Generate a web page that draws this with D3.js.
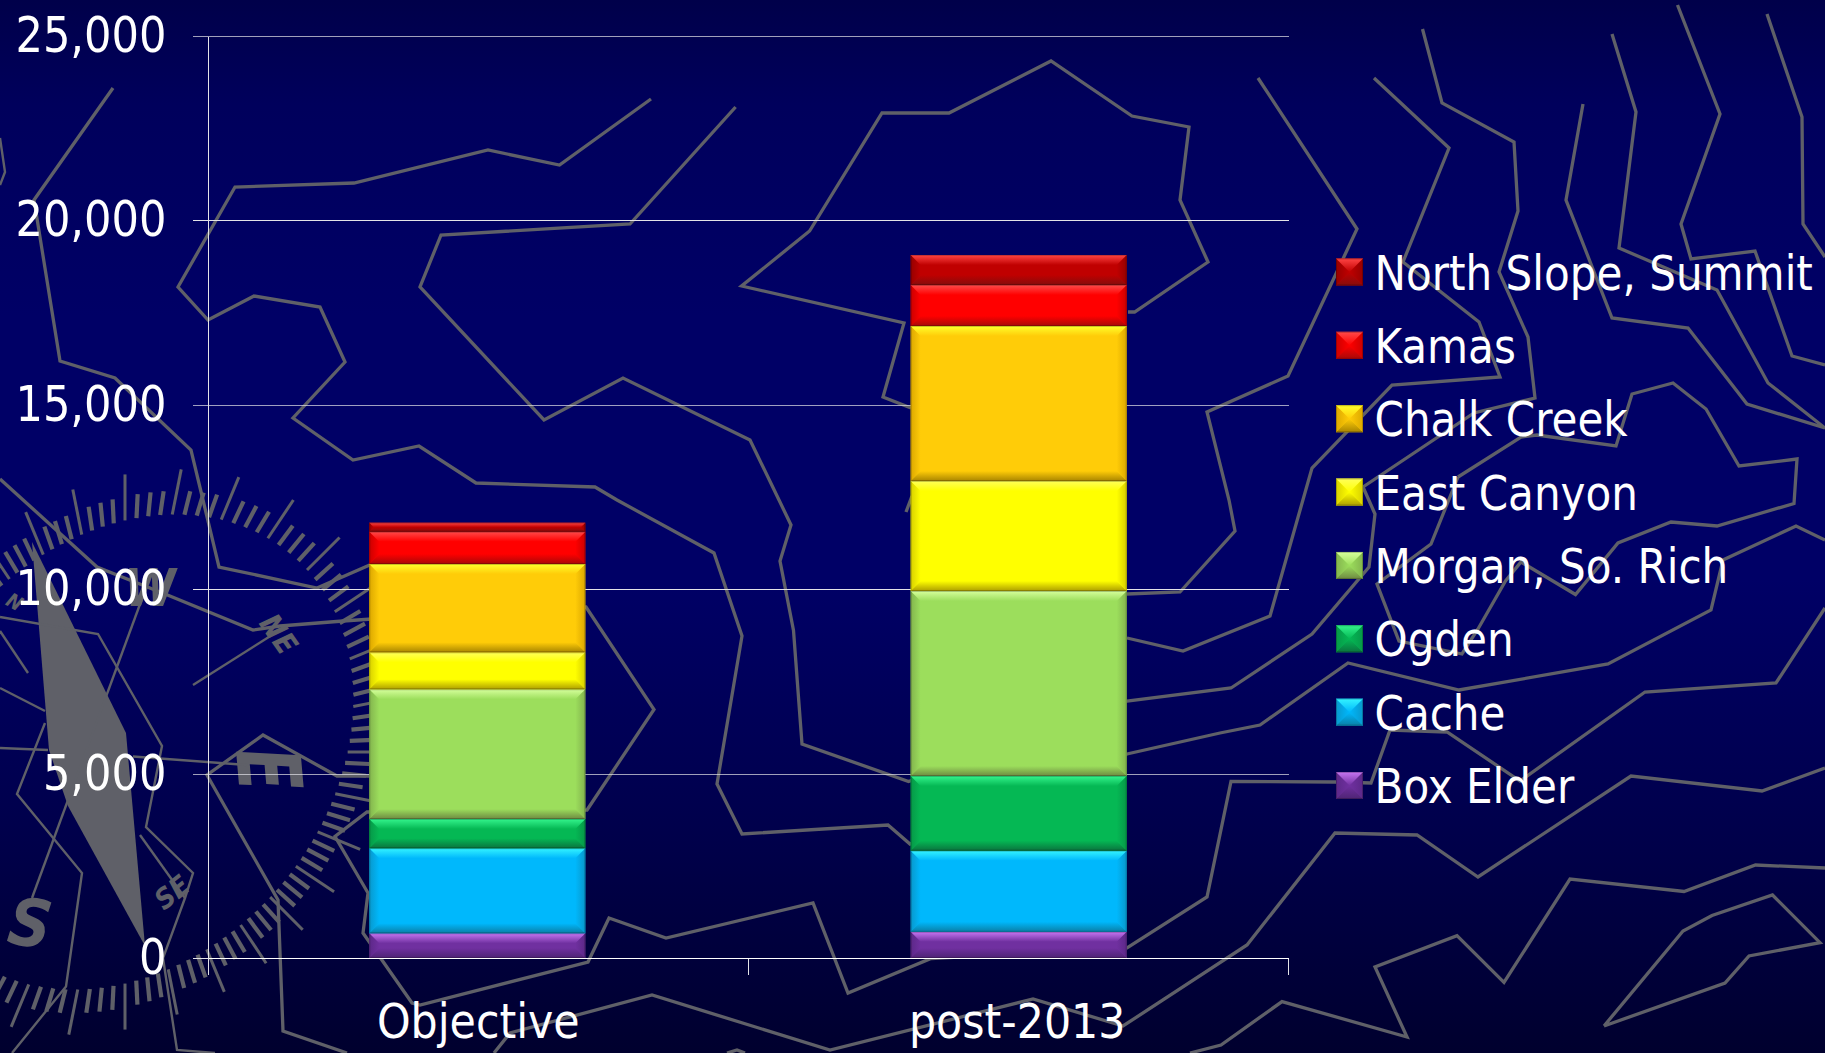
<!DOCTYPE html>
<html>
<head>
<meta charset="utf-8">
<script src="https://cdn.jsdelivr.net/npm/d3@7/dist/d3.min.js"></script>
<style>
html,body{margin:0;padding:0;background:#000066;overflow:hidden}
svg{display:block}
text{font-family:"DejaVu Sans Condensed","DejaVu Sans",sans-serif;fill:#fff}
</style>
</head>
<body>
<svg id="chart" width="1825" height="1053"></svg>
<script>
// ---- chart data ----
const categories = ["Objective", "post-2013"];
const seriesNames = ["Box Elder", "Cache", "Ogden", "Morgan, So. Rich", "East Canyon", "Chalk Creek", "Kamas", "North Slope, Summit"];
const boxElder  = [670, 710];
const cache     = [2305, 2200];
const ogden     = [794, 2025];
const morgan    = [3517, 5016];
const eastCanyon= [1003, 2983];
const chalkCreek= [2394, 4203];
const kamas     = [876, 1112];
const northSlope= [244, 813];
const seriesValues = [boxElder, cache, ogden, morgan, eastCanyon, chalkCreek, kamas, northSlope];
const yTicks = [0, 5000, 10000, 15000, 20000, 25000];

// ---- styles ----
const baseColors   = ["#7030a0","#00b8fc","#05b854","#9cde5c","#ffff00","#ffcc08","#ff0000","#c00000"];
const lightColors  = ["#c676f2","#34f4ff","#34f48c","#d6ff9c","#ffff5a","#ffff2c","#ff4a4a","#ff4444"];
const darkColors   = ["#4e2474","#0a7fa6","#0a733e","#6e8a42","#ad9e00","#a98500","#a80808","#860c0c"];
const sideColors   = ["#5c2888","#0898cc","#069848","#83b44e","#d8d000","#dca800","#cc0000","#960000"];

// ---- decorative background linework ----
const contourPaths = [
 [[113,88],[34,200],[60,361],[115,378],[191,450],[203,500],[219,567],[317,588],[372,564]],
 [[0,479],[97,567],[165,594],[253,630],[280,626],[343,621],[372,619],[586,607],[654,709.5],[587,810],[367,812],[335,836.5],[368,893],[363,933],[412,1003],[420,1005],[588,962],[609,918],[666,938],[813,903],[848,993],[931,958.5],[1127,948],[1207,897],[1231,781.5],[1335,782],[1371,783],[1390,730],[1447,732],[1520,781],[1645,692],[1776,683],[1825,608]],
 [[651,99],[559.5,165],[488,150],[354,183],[235,187],[178,287],[208,320],[254,296],[320,307],[345,362],[293,418],[353,460],[419,446],[476,483],[595,487],[617,500],[714,553],[742,636],[717,784],[742,834],[888,825],[910,844],[1127,754],[1220,733],[1260,725],[1348,663],[1459,690],[1608,664],[1711,610],[1723,560],[1796,526],[1825,540]],
 [[735.6,107],[630,224],[441,235],[420,287],[544,420],[623,378],[750,440],[779,500],[791,525],[780,561],[793.5,630.5],[802,744],[908.6,781.5],[1127,701],[1231,688],[1312,634],[1369,567],[1375,514],[1363,487],[1474,413],[1535,398],[1528,337],[1499,272],[1518,211],[1514,142],[1442,103],[1422.5,29]],
 [[911,408],[883,397],[904,323],[741.6,286],[809.6,231],[882,113],[949,113],[1051,61],[1132,116],[1189,127],[1180,200],[1208,262],[1134.6,312],[1128,312]],
 [[912,496],[906,512]],
 [[1258,78],[1357,229],[1288,376],[1207,412],[1229,500],[1235,531],[1180,592],[1127,594]],
 [[1374,78],[1449,148],[1403,262],[1479,322],[1500,377],[1392,385],[1312,468],[1270,616],[1183,651],[1127,638]],
 [[1583,104],[1566,200],[1612,318],[1688,328],[1747,404],[1825,428]],
 [[1458,477],[1521,437],[1537,435],[1616,446],[1632,394],[1673,383],[1706,409],[1739,466],[1797,459],[1794,503.5],[1717,526],[1671,522],[1618,543],[1575.5,594.5],[1521,562],[1505.5,581],[1478,629],[1462,654],[1399,641],[1377,584],[1431,544],[1458,477]],
 [[1612,34],[1636,112],[1619,248],[1717,290],[1768,383],[1825,428]],
 [[1677.5,5],[1720,114],[1681,224],[1691,259],[1755,251],[1792,356],[1825,365]],
 [[1767,14],[1802,117],[1803,224],[1825,257]],
 [[1825,768],[1762,791],[1631,776],[1478,877],[1417,835],[1335,833],[1247,945],[1123,1026],[1033,999],[830,1050],[652,995],[510,1033],[494,1053]],
 [[1825,868],[1755.5,865],[1684,891.5],[1570,879],[1504,982.5],[1457,935.6],[1375,967],[1407,1037],[1282,1001.6],[1221,1045],[1190,1053]],
 [[1604,1026],[1683,931],[1712,915.5],[1772.5,895],[1820,942.6],[1749,956],[1725,983],[1604,1026]],
 [[369,776],[337,776],[263,735],[207,775],[278,900],[283,1031],[347,1053]],
 [[727,1053],[737,1050],[745,1053]]
];
const thinPaths = [
 [[0,138],[5,172],[0,185]],
 [[193,685],[272,635]],
 [[140,835],[185,898]],
 [[0,688],[45,711]],
 [[0,748],[48,750]],
 [[133,756.5],[247,765]],
 [[0,631],[28,673]],
 [[45,723],[17,794],[82,873],[66,986.5],[12,1053]],
 [[143,596],[32,898]],
 [[0,617],[98,634],[162,746],[146,827],[193,873],[185,898],[163,958],[177,1050],[215,1053]]
];
const needle = [[32,542],[126,733],[145,946],[68,806],[49,750]];
const lineGrey = "#5f6068";

const svg = d3.select("#chart");
const defs = svg.append("defs");

// background gradient
const bg = defs.append("linearGradient").attr("id","bg").attr("x1",0).attr("y1",0).attr("x2",0).attr("y2",1);
[[0,"#00004a"],[0.1,"#00005c"],[0.3,"#000066"],[0.55,"#000066"],[0.8,"#00004a"],[1,"#00002e"]]
  .forEach(s=>bg.append("stop").attr("offset",s[0]).attr("stop-color",s[1]));
svg.append("rect").attr("width",1825).attr("height",1053).attr("fill","url(#bg)");

// compass ring
const compass = svg.append("g");
const ringCx=125, ringCy=752, ringA=258, ringB=205, ringRot=-50*Math.PI/180;
function ringRadius(t){
  const d=t-ringRot;
  return 1/Math.sqrt(Math.cos(d)**2/(ringA*ringA)+Math.sin(d)**2/(ringB*ringB));
}
compass.selectAll("line").data(d3.range(128)).join("line")
  .attr("x1",i=>{const t=i/128*2*Math.PI;return ringCx+ringRadius(t)*Math.cos(t);})
  .attr("y1",i=>{const t=i/128*2*Math.PI;return ringCy+ringRadius(t)*Math.sin(t);})
  .attr("x2",i=>{const t=i/128*2*Math.PI,r=ringRadius(t)+(i%4===0?46:24);return ringCx+r*Math.cos(t);})
  .attr("y2",i=>{const t=i/128*2*Math.PI,r=ringRadius(t)+(i%4===0?46:24);return ringCy+r*Math.sin(t);})
  .attr("stroke",lineGrey).attr("stroke-width",i=>i%4===0?3:4.2);

compass.append("polygon").attr("points",needle.map(p=>p.join(",")).join(" ")).attr("fill",lineGrey);

const dirLabels = [
 {t:"W",x:150,y:606,s:52,r:0,sx:1},
 {t:"E",x:238,y:772,s:88,r:85,sx:0.8},
 {t:"S",x:27,y:946,s:66,r:8,sx:1},
 {t:"N",x:11,y:608,s:20,r:30,sx:1},
 {t:"NE",x:270,y:640,s:30,r:55,sx:1},
 {t:"SE",x:178,y:900,s:28,r:-38,sx:1}
];
compass.selectAll("text").data(dirLabels).join("text")
  .attr("transform",d=>`translate(${d.x},${d.y}) rotate(${d.r}) scale(${d.sx},1)`)
  .attr("text-anchor","middle").attr("font-size",d=>d.s)
  .attr("font-weight","bold").attr("font-style","italic")
  .style("fill",lineGrey).text(d=>d.t);

const line = d3.line();
svg.append("g").selectAll("path").data(contourPaths).join("path")
  .attr("d",line).attr("fill","none").attr("stroke",lineGrey).attr("stroke-width",3.3).attr("stroke-linejoin","miter");
svg.append("g").selectAll("path").data(thinPaths).join("path")
  .attr("d",line).attr("fill","none").attr("stroke",lineGrey).attr("stroke-width",2.4);

// ---- scales ----
const plotLeft=208.5, plotRight=1288.5;
const x = d3.scaleBand().domain(categories).range([207.3,1288.7]).paddingInner(0.601).paddingOuter(0.2992);
const y = d3.scaleLinear().domain([0,25000]).range([958,36]);
const py = v => Math.round(y(v))+0.5;

// gridlines and axes
const axisColor = "#e4e4e8";
const yAxis = svg.append("g").attr("transform",`translate(${plotLeft},0)`)
  .call(d3.axisLeft(y).tickValues(yTicks).tickSize(16).tickPadding(26).tickFormat(d3.format(",")));
yAxis.selectAll(".domain").remove();
yAxis.selectAll(".tick").attr("transform",d=>`translate(0,${py(d)})`);
yAxis.selectAll(".tick line").attr("x1",-16).attr("x2",plotRight-plotLeft).attr("stroke",axisColor)
  .attr("stroke-width",1).attr("shape-rendering","crispEdges").attr("stroke-opacity",d=>d===25000||d===15000||d===5000?0.7:1);
const yText = yAxis.selectAll(".tick text").attr("font-size",50).attr("dy",0).attr("y",15.5)
  .attr("font-family",'"DejaVu Sans Condensed"').style("fill","#fff");

svg.append("line").attr("x1",plotLeft).attr("x2",plotLeft).attr("y1",py(25000)).attr("y2",975)
  .attr("stroke",axisColor).attr("stroke-width",1).attr("shape-rendering","crispEdges");
svg.append("line").attr("x1",plotLeft).attr("x2",plotRight).attr("y1",py(0)).attr("y2",py(0))
  .attr("stroke","#fff").attr("stroke-width",1).attr("shape-rendering","crispEdges");

const sepX = d3.range(3).map(i=>plotLeft+i*(plotRight-plotLeft)/2);
svg.append("g").selectAll("line").data(sepX).join("line")
  .attr("x1",d=>d).attr("x2",d=>d).attr("y1",py(0)).attr("y2",975)
  .attr("stroke",axisColor).attr("stroke-width",1).attr("shape-rendering","crispEdges");

const xAxis = svg.append("g").attr("transform",`translate(0,${py(0)})`)
  .call(d3.axisBottom(x).tickSize(0).tickPadding(0));
xAxis.selectAll(".domain").remove();
const xText = xAxis.selectAll(".tick text").attr("font-size",48).attr("dy",0).attr("y",79.5)
  .attr("x",(d,i)=>i?-1.5:1)
  .attr("font-family",'"DejaVu Sans Condensed"').style("fill","#fff");

// bevel gradients
function grad(id,c1,c2,horizontal){
  const g=defs.append("linearGradient").attr("id",id)
    .attr("x1",0).attr("y1",0).attr("x2",horizontal?1:0).attr("y2",horizontal?0:1);
  g.append("stop").attr("offset",0).attr("stop-color",c1);
  g.append("stop").attr("offset",1).attr("stop-color",c2);
}
seriesNames.forEach((n,i)=>{
  grad("top"+i,lightColors[i],baseColors[i],false);
  grad("bot"+i,baseColors[i],darkColors[i],false);
  grad("lef"+i,sideColors[i],baseColors[i],true);
  grad("rig"+i,baseColors[i],sideColors[i],true);
});

function bevel(g,x0,y0,w,h,i,depth){
  const d=Math.min(depth,h/2,w/2), x1=x0+w, y1=y0+h;
  const poly=(pts,fill)=>g.append("polygon").attr("points",pts.map(p=>p.join(",")).join(" ")).attr("fill",fill);
  g.append("rect").attr("x",x0).attr("y",y0).attr("width",w).attr("height",h).attr("fill",baseColors[i]);
  poly([[x0,y0],[x0+d,y0+d],[x0+d,y1-d],[x0,y1]],`url(#lef${i})`);
  poly([[x1,y0],[x1-d,y0+d],[x1-d,y1-d],[x1,y1]],`url(#rig${i})`);
  poly([[x0,y0],[x1,y0],[x1-d,y0+d],[x0+d,y0+d]],`url(#top${i})`);
  poly([[x0,y1],[x1,y1],[x1-d,y1-d],[x0+d,y1-d]],`url(#bot${i})`);
  g.append("rect").attr("x",x0+0.5).attr("y",y0+0.5).attr("width",w-1).attr("height",Math.max(h-1,0))
    .attr("fill","none").attr("stroke","#000").attr("stroke-opacity",0.22);
}

// stacked bars
const stackKeys = seriesNames.map((_,i)=>i);
const stacked = d3.stack().keys(stackKeys).value((d,k)=>seriesValues[k][d])(categories.map((_,i)=>i));
stacked.forEach((layer,i)=>{
  layer.forEach((seg,c)=>{
    const g=svg.append("g").attr("class","bar");
    const yT=y(seg[1]), yB=y(seg[0]);
    bevel(g,x(categories[c]),yT,x.bandwidth(),yB-yT,i,10);
  });
});

// legend
const legendOrder = d3.range(seriesNames.length).reverse();
const legendRow = d3.scaleLinear().domain([0,7]).range([272,785.5]);
legendOrder.forEach((s,r)=>{
  const cy=legendRow(r);
  bevel(svg.append("g"),1336,cy-13.5,27,27,s,13.5);
  svg.append("text").attr("class","legendText").attr("x",1374.5).attr("y",cy+17.5)
    .attr("font-size",48).text(seriesNames[s]);
});

// narrow or widen text to match the original face
const fit = (sel,f)=>sel.attr("textLength",function(){return this.getComputedTextLength()*f;}).attr("lengthAdjust","spacingAndGlyphs");
fit(d3.selectAll(".legendText"),0.975);
fit(yText,0.96);
fit(xText,0.99);
</script>
</body>
</html>
